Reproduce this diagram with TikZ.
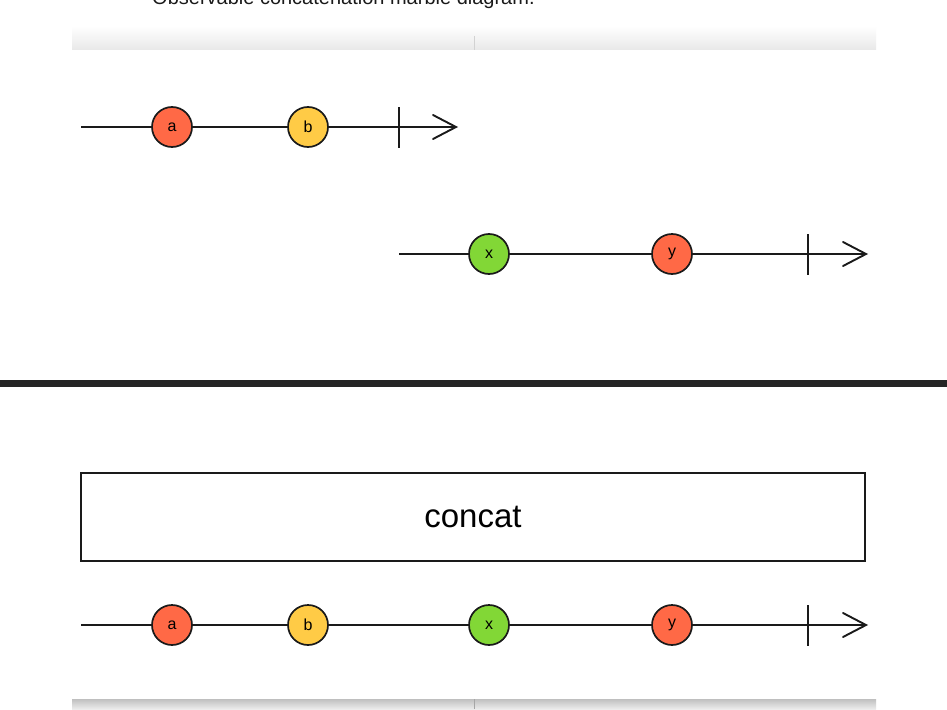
\documentclass[tikz,border=0pt]{standalone}
\usepackage{fontspec}
\setmainfont{Liberation Sans}
\definecolor{mred}{HTML}{FF6946}
\definecolor{myel}{HTML}{FFCB46}
\definecolor{mgrn}{HTML}{82D736}
\definecolor{ink}{HTML}{1A1A1A}
\begin{document}
\begin{tikzpicture}[x=1pt,y=-1pt,
  line/.style={draw=ink,line width=1.7pt},
  marble/.style={circle,draw=ink,line width=1.7pt,minimum size=40pt,inner sep=0pt,font=\fontsize{16}{16}\selectfont},
  endbar/.style={draw=ink,line width=1.9pt},
  chev/.style={draw=ink,line width=1.9pt,line cap=round,line join=miter},
  opbox/.style={draw=ink,line width=2pt,minimum width=784pt,minimum height=88pt,inner sep=0pt,font=\fontsize{33}{33}\selectfont}]
\useasboundingbox (0,0) rectangle (947,709);
\clip (0,0) rectangle (947,709);
\fill[white] (0,0) rectangle (947,709);
% caption (cut off at top, as in the reference)
\node[anchor=base west,inner sep=0pt,font=\fontsize{20}{20}\selectfont,text=ink] (cap) at (152,5) {Observable concatenation marble diagram.};
% shadows
\shade[top color=white,bottom color=gray!18] (72,26) rectangle (876,50);
\draw[gray!35,line width=0.6pt] (474,36) -- (474,50);
\shade[top color=gray!50,bottom color=gray!15] (72,699) rectangle (876,709);
\draw[gray!70,line width=0.6pt] (474,699) -- (474,709);
% timeline 1
\coordinate (s1) at (81,127);
\coordinate (e1) at (456,127);
\draw[line] (s1) -- (e1);
\node[marble,fill=mred] (a1) at (172,127) {a};
\node[marble,fill=myel] (b1) at (308,127) {b};
\coordinate (c1t) at (399,107); \coordinate (c1b) at (399,148);
\draw[endbar] (c1t) -- (c1b);
\coordinate (h1a) at (433,115); \coordinate (h1b) at (433,139);
\draw[chev] (h1a) -- (e1) -- (h1b);
% timeline 2
\coordinate (s2) at (399,254);
\coordinate (e2) at (866,254);
\draw[line] (s2) -- (e2);
\node[marble,fill=mgrn] (x2) at (489,254) {x};
\node[marble,fill=mred] (y2) at (672,254) {y};
\coordinate (c2t) at (808,234); \coordinate (c2b) at (808,275);
\draw[endbar] (c2t) -- (c2b);
\coordinate (h2a) at (843,242); \coordinate (h2b) at (843,266);
\draw[chev] (h2a) -- (e2) -- (h2b);
% separator
\fill[ink!95] (0,380) rectangle (947,387);
% operator box
\node[opbox] (op) at (473,517) {concat};
% output timeline
\coordinate (s3) at (81,625);
\coordinate (e3) at (866,625);
\draw[line] (s3) -- (e3);
\node[marble,fill=mred] (a3) at (172,625) {a};
\node[marble,fill=myel] (b3) at (308,625) {b};
\node[marble,fill=mgrn] (x3) at (489,625) {x};
\node[marble,fill=mred] (y3) at (672,625) {y};
\coordinate (c3t) at (808,605); \coordinate (c3b) at (808,646);
\draw[endbar] (c3t) -- (c3b);
\coordinate (h3a) at (843,613); \coordinate (h3b) at (843,637);
\draw[chev] (h3a) -- (e3) -- (h3b);
\end{tikzpicture}
\end{document}
